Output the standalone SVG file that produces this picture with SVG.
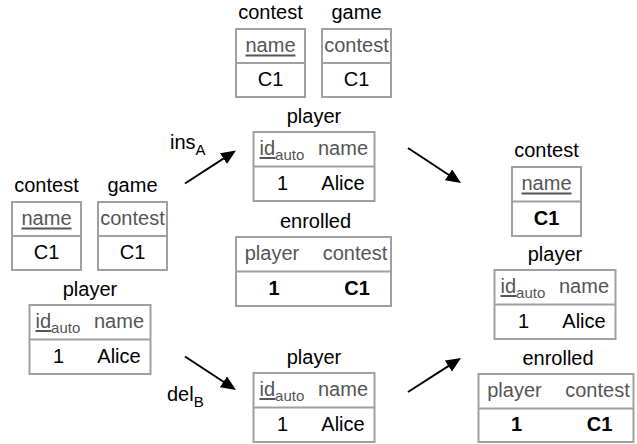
<svg xmlns="http://www.w3.org/2000/svg" width="637" height="444" viewBox="0 0 637 444">
<style>
text{font-family:"Liberation Sans",Arial,sans-serif;font-size:20px;fill:#000}
.t{text-anchor:middle}
.h{fill:#555;text-anchor:middle}
.hs{fill:#555}
.d{text-anchor:middle}
.b{font-weight:bold;text-anchor:middle}
.sub{font-size:15px}
.box{fill:#fff;stroke:#a0a0a0;stroke-width:2}
.sep{stroke:#a0a0a0;stroke-width:2}
.ul{stroke:#555;stroke-width:2}
.arr{stroke:#000;stroke-width:2;fill:none}
</style>
<defs>
<marker id="ah" markerUnits="userSpaceOnUse" markerWidth="15" markerHeight="13" refX="5" refY="6.5" orient="auto">
<path d="M0,0 L15,6.5 L0,13 z" fill="#000"/>
</marker>
</defs>
<g id="connectors">
<line class="arr" x1="185" y1="183.5" x2="227.6" y2="155.9" marker-end="url(#ah)"/>
<line class="arr" x1="185" y1="356.5" x2="227.6" y2="384.5" marker-end="url(#ah)"/>
<line class="arr" x1="408" y1="148" x2="452.7" y2="177.5" marker-end="url(#ah)"/>
<line class="arr" x1="408" y1="392" x2="452.6" y2="363.4" marker-end="url(#ah)"/>
<text x="170" y="149" font-size="19">ins<tspan class="sub" dy="6">A</tspan></text>
<text x="167" y="401" font-size="19">del<tspan class="sub" dy="6">B</tspan></text>
</g>
<!-- left state -->
<g id="L-contest">
<text class="t" x="46.5" y="192">contest</text>
<rect class="box" x="12" y="202" width="69" height="68"/>
<line class="sep" x1="12" y1="236" x2="81" y2="236"/>
<text class="h" x="46.5" y="225">name</text>
<line class="ul" x1="21.5" y1="228.5" x2="71.5" y2="228.5"/>
<text class="d" x="46.5" y="259">C1</text>
</g>
<g id="L-game">
<text class="t" x="132.5" y="192">game</text>
<rect class="box" x="98" y="202" width="69" height="68"/>
<line class="sep" x1="98" y1="236" x2="167" y2="236"/>
<text class="h" x="132.5" y="225">contest</text>
<text class="d" x="132.5" y="259">C1</text>
</g>
<g id="L-player">
<text class="t" x="90" y="296">player</text>
<rect class="box" x="29.5" y="305" width="121" height="69"/>
<line class="sep" x1="29.5" y1="339.5" x2="150.5" y2="339.5"/>
<text class="hs" x="35.5" y="328">id<tspan class="sub" dy="5">auto</tspan></text>
<line class="ul" x1="35.5" y1="331" x2="51.5" y2="331"/>
<text class="h" x="119" y="328">name</text>
<text class="d" x="58.5" y="362.5">1</text>
<text class="d" x="119" y="362.5">Alice</text>
</g>
<!-- middle top -->
<g id="A-contest">
<text class="t" x="270.5" y="19">contest</text>
<rect class="box" x="236" y="29" width="69" height="68"/>
<line class="sep" x1="236" y1="63" x2="305" y2="63"/>
<text class="h" x="270.5" y="52">name</text>
<line class="ul" x1="245.5" y1="55.5" x2="295.5" y2="55.5"/>
<text class="d" x="270.5" y="86">C1</text>
</g>
<g id="A-game">
<text class="t" x="356.5" y="19">game</text>
<rect class="box" x="322" y="29" width="69" height="68"/>
<line class="sep" x1="322" y1="63" x2="391" y2="63"/>
<text class="h" x="356.5" y="52">contest</text>
<text class="d" x="356.5" y="86">C1</text>
</g>
<g id="A-player">
<text class="t" x="314" y="123">player</text>
<rect class="box" x="253.5" y="132" width="121" height="69"/>
<line class="sep" x1="253.5" y1="166.5" x2="374.5" y2="166.5"/>
<text class="hs" x="259.5" y="155">id<tspan class="sub" dy="5">auto</tspan></text>
<line class="ul" x1="259.5" y1="158" x2="275.5" y2="158"/>
<text class="h" x="343" y="155">name</text>
<text class="d" x="282.5" y="189.5">1</text>
<text class="d" x="343" y="189.5">Alice</text>
</g>
<g id="A-enrolled">
<text class="t" x="315.5" y="228">enrolled</text>
<rect class="box" x="236" y="237" width="155" height="69"/>
<line class="sep" x1="236" y1="271.5" x2="391" y2="271.5"/>
<text class="h" x="272" y="260">player</text>
<text class="h" x="355" y="260">contest</text>
<text class="b" x="274" y="295">1</text>
<text class="b" x="357" y="295">C1</text>
</g>
<!-- middle bottom -->
<g id="B-player">
<text class="t" x="314" y="364">player</text>
<rect class="box" x="253.5" y="373" width="121" height="69"/>
<line class="sep" x1="253.5" y1="407.5" x2="374.5" y2="407.5"/>
<text class="hs" x="259.5" y="396">id<tspan class="sub" dy="5">auto</tspan></text>
<line class="ul" x1="259.5" y1="399" x2="275.5" y2="399"/>
<text class="h" x="343" y="396">name</text>
<text class="d" x="282.5" y="430.5">1</text>
<text class="d" x="343" y="430.5">Alice</text>
</g>
<!-- right state -->
<g id="R-contest">
<text class="t" x="546.5" y="157">contest</text>
<rect class="box" x="512" y="167" width="69" height="69"/>
<line class="sep" x1="512" y1="201.5" x2="581" y2="201.5"/>
<text class="h" x="546.5" y="190">name</text>
<line class="ul" x1="521.5" y1="193.5" x2="571.5" y2="193.5"/>
<text class="b" x="546.5" y="224.5">C1</text>
</g>
<g id="R-player">
<text class="t" x="555" y="261">player</text>
<rect class="box" x="494.5" y="270" width="121" height="69"/>
<line class="sep" x1="494.5" y1="304.5" x2="615.5" y2="304.5"/>
<text class="hs" x="500.5" y="293">id<tspan class="sub" dy="5">auto</tspan></text>
<line class="ul" x1="500.5" y1="296" x2="516.5" y2="296"/>
<text class="h" x="584" y="293">name</text>
<text class="d" x="523.5" y="327.5">1</text>
<text class="d" x="584" y="327.5">Alice</text>
</g>
<g id="R-enrolled">
<text class="t" x="558" y="365">enrolled</text>
<rect class="box" x="478.5" y="374" width="155" height="68"/>
<line class="sep" x1="478.5" y1="408.5" x2="633.5" y2="408.5"/>
<text class="h" x="514.5" y="397">player</text>
<text class="h" x="597.5" y="397">contest</text>
<text class="b" x="516.5" y="431">1</text>
<text class="b" x="599.5" y="431">C1</text>
</g>
</svg>
